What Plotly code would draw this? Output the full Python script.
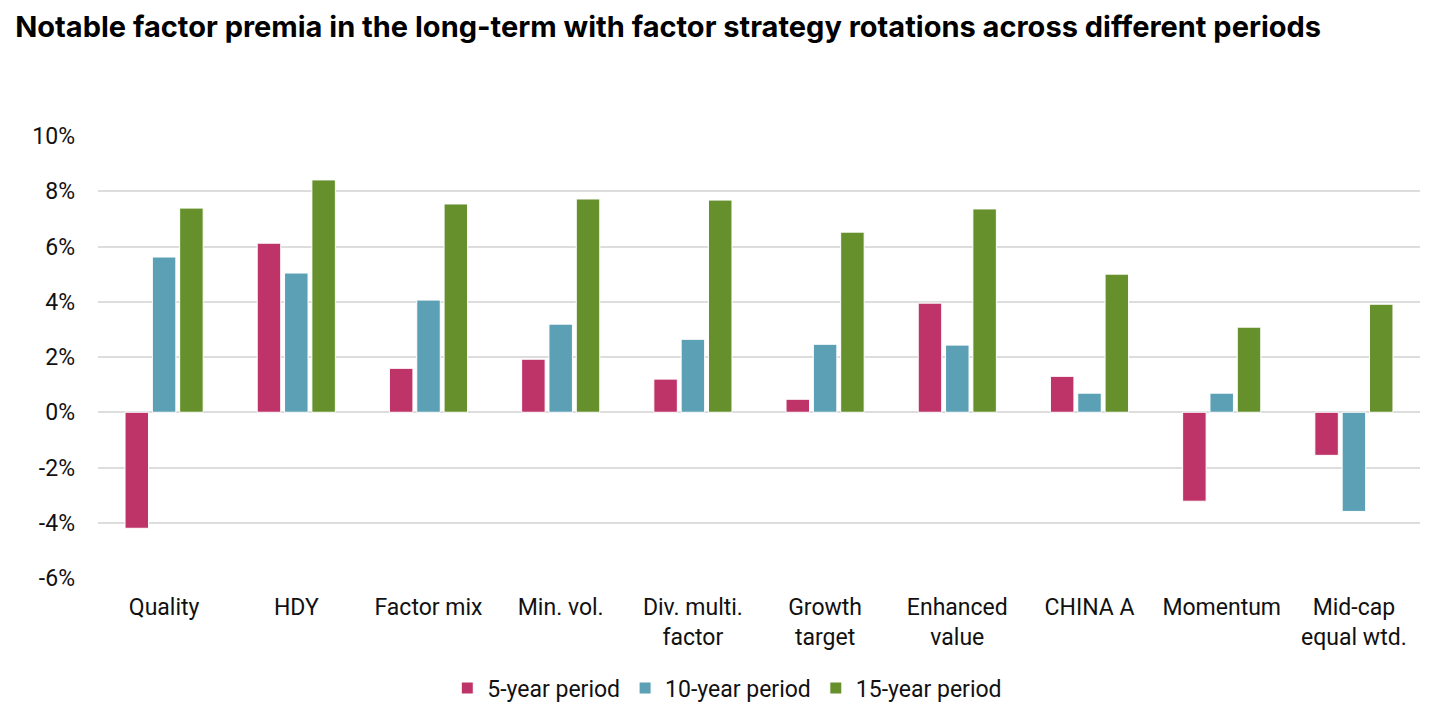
import plotly.graph_objects as go

categories = ["Quality", "HDY", "Factor mix", "Min. vol.", "Div. multi.<br>factor",
              "Growth<br>target", "Enhanced<br>value", "CHINA A", "Momentum",
              "Mid-cap<br>equal wtd."]
five_year = [-4.2, 6.12, 1.59, 1.92, 1.20, 0.47, 3.95, 1.30, -3.22, -1.56]
ten_year = [5.62, 5.04, 4.06, 3.19, 2.64, 2.46, 2.43, 0.69, 0.69, -3.59]
fifteen_year = [7.39, 8.41, 7.54, 7.72, 7.68, 6.52, 7.36, 5.00, 3.08, 3.91]
series_names = ["5-year period", "10-year period", "15-year period"]
colors = ["#BE3468", "#5BA0B5", "#66902C"]
y_ticks = [-6, -4, -2, 0, 2, 4, 6, 8, 10]

fig = go.Figure()
for name, vals, col in zip(series_names, [five_year, ten_year, fifteen_year], colors):
    fig.add_trace(go.Bar(x=categories, y=vals, name=name,
                         marker=dict(color=col, line=dict(color="white", width=1))))

fig.update_layout(
    width=1440, height=720,
    paper_bgcolor="white", plot_bgcolor="white",
    font=dict(family="Roboto", size=23, color="#111111"),
    title=dict(text="<b>Notable factor premia in the long-term with factor strategy rotations across different periods</b>",
               x=0.005, xanchor="left", y=0.974, yanchor="middle",
               font=dict(family="Inter", size=29, color="#000000")),
    barmode="group", bargap=0.38, bargroupgap=0.14,
    margin=dict(l=90, r=28, t=128, b=150),
    legend=dict(orientation="h", x=0.476, xanchor="center", y=-0.249, yanchor="middle",
                font=dict(size=23), itemwidth=30, traceorder="normal"),
    xaxis=dict(showgrid=False, showline=False, ticks="", tickfont=dict(size=23),
               ticklabelstandoff=13),
    yaxis=dict(range=[-6, 10], tickvals=y_ticks,
               ticktext=[f"{v}%" for v in y_ticks],
               showgrid=True, gridcolor="#DDDDDD", gridwidth=2,
               zeroline=True, zerolinecolor="#DDDDDD", zerolinewidth=2,
               ticks="", ticklabelstandoff=22, tickfont=dict(size=23)),
)

fig.write_html("out.html")
